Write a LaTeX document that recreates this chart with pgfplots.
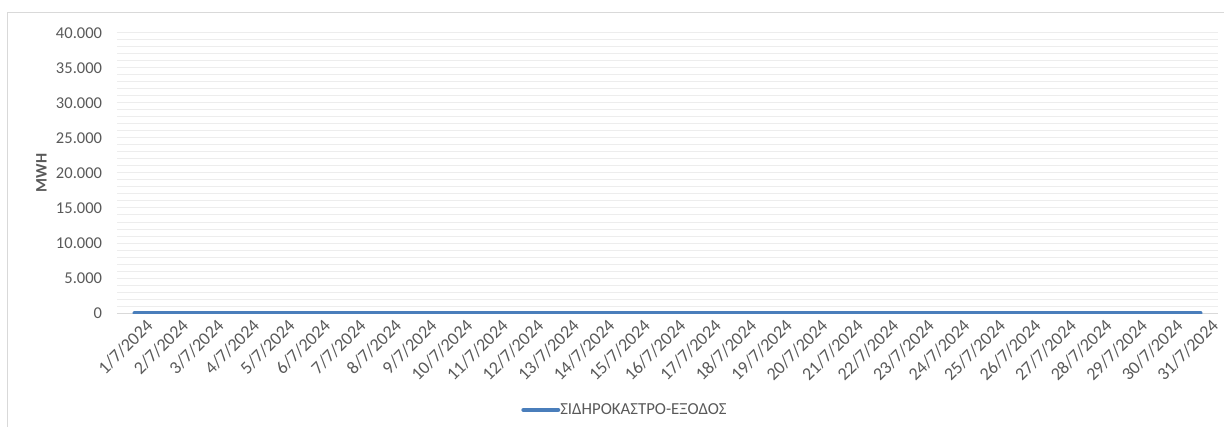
\documentclass[border=0pt]{standalone}
\usepackage{fontspec}
\setmainfont{Carlito}
\usepackage{pgfplots}
\pgfplotsset{compat=1.18}
\definecolor{serie}{HTML}{4A7EBB}
\definecolor{txt}{HTML}{595959}
\definecolor{gridc}{HTML}{EDEDED}
\definecolor{framec}{HTML}{D9D9D9}
\begin{document}
\begin{tikzpicture}[font=\fontsize{12pt}{14pt}\selectfont]
\useasboundingbox (0,0) rectangle (918pt,-320.25pt);
\draw[framec, line width=0.75pt] (5.25pt,-320.25pt) -- (5.25pt,-9.75pt) -- (918pt,-9.75pt);
\begin{axis}[
  at={(87.75pt,-234.75pt)}, anchor=south west,
  scale only axis, width=825.75pt, height=210pt,
  xmin=0.5, xmax=31.5, ymin=0, ymax=40000,
  ytick={0,5000,...,40000}, minor ytick={0,1000,...,40000},
  scaled y ticks=false,
  ymajorgrids, yminorgrids,
  major grid style={gridc, line width=0.75pt},
  minor grid style={gridc, line width=0.75pt},
  axis lines*=left,
  x axis line style={framec, line width=0.75pt},
  y axis line style={draw=none},
  major tick length=0pt, minor tick length=0pt,
  xtick=data,
  xticklabels={1/7/2024,2/7/2024,3/7/2024,4/7/2024,5/7/2024,6/7/2024,7/7/2024,8/7/2024,9/7/2024,10/7/2024,11/7/2024,12/7/2024,13/7/2024,14/7/2024,15/7/2024,16/7/2024,17/7/2024,18/7/2024,19/7/2024,20/7/2024,21/7/2024,22/7/2024,23/7/2024,24/7/2024,25/7/2024,26/7/2024,27/7/2024,28/7/2024,29/7/2024,30/7/2024,31/7/2024},
  tick label style={text=txt},
  xticklabel style={rotate=45, anchor=east, inner sep=0pt, xshift=3pt, yshift=-13pt,
    font=\fontsize{13.5pt}{15pt}\selectfont},
  yticklabel style={anchor=east, inner sep=0pt, xshift=-11pt,
    font=\fontsize{12.4pt}{14pt}\selectfont},
  ylabel={\textbf{MWH}},
  ylabel style={at={(axis description cs:-0.0686,0.5)}, anchor=center, text=txt},
  /pgf/number format/.cd, fixed, 1000 sep={.}, assume math mode=true,
  /pgfplots/.cd,
  legend style={at={(axis description cs:0.367,-0.346)}, anchor=west, draw=none, fill=none,
    inner sep=0pt, text=txt, font=\fontsize{12.6pt}{14pt}\selectfont,
    nodes={inner sep=0pt}},
  legend image code/.code={\draw[serie, line width=3.4pt, line cap=round] (1.7pt,0pt) -- (27.5pt,0pt);},
]
\addplot[serie, line width=3.4pt, line cap=round] coordinates {
(1,0) (2,0) (3,0) (4,0) (5,0) (6,0) (7,0) (8,0) (9,0) (10,0)
(11,0) (12,0) (13,0) (14,0) (15,0) (16,0) (17,0) (18,0) (19,0) (20,0)
(21,0) (22,0) (23,0) (24,0) (25,0) (26,0) (27,0) (28,0) (29,0) (30,0) (31,0)
};
\addlegendentry{ΣΙΔΗΡΟΚΑΣΤΡΟ-ΕΞΟΔΟΣ}
\end{axis}
\end{tikzpicture}
\end{document}
